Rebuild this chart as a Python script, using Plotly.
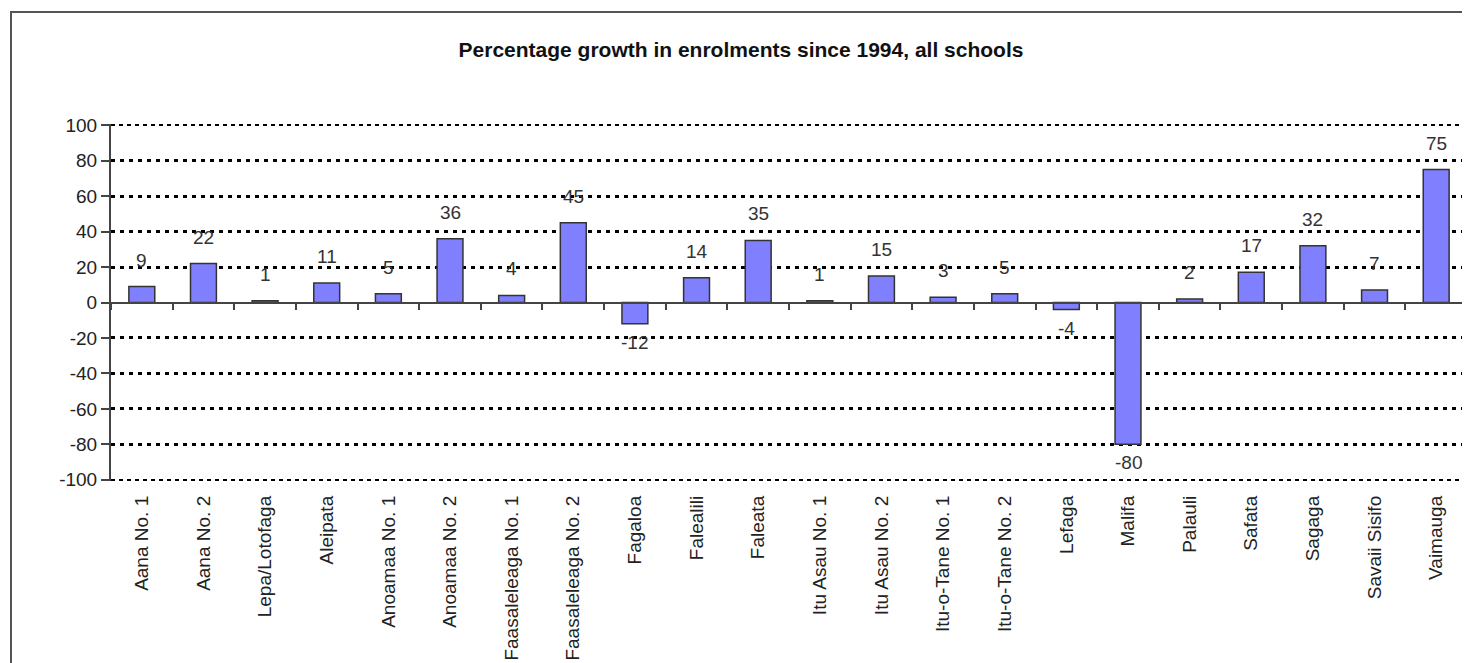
import plotly.graph_objects as go

districts = ["Aana No. 1", "Aana No. 2", "Lepa/Lotofaga", "Aleipata", "Anoamaa No. 1",
             "Anoamaa No. 2", "Faasaleleaga No. 1", "Faasaleleaga No. 2", "Fagaloa",
             "Falealili", "Faleata", "Itu Asau No. 1", "Itu Asau No. 2", "Itu-o-Tane No. 1",
             "Itu-o-Tane No. 2", "Lefaga", "Malifa", "Palauli", "Safata", "Sagaga",
             "Savaii Sisifo", "Vaimauga"]
growth = [9, 22, 1, 11, 5, 36, 4, 45, -12, 14, 35, 1, 15, 3, 5, -4, -80, 2, 17, 32, 7, 75]
y_ticks = [-100, -80, -60, -40, -20, 0, 20, 40, 60, 80, 100]
y_tick_labels = ["-100", "-80", "-60", "-40", "-20", "0", "20", "40", "60", "80", "100"]
inner_grid = [-80, -60, -40, -20, 20, 40, 60, 80]
outer_grid = [-100, 100]
title_text = "Percentage growth in enrolments since 1994, all schools"

FONT = "Liberation Sans, Arial, sans-serif"
OFF = 8  # default page body margin
W, H = 1470 - OFF, 663 - OFF
ML, MR, MT, MB = 111 - OFF, 3, 124 - OFF, 182
YR = [-100.7, 100.7]

fig = go.Figure()

# invisible helpers so the overlay axes are drawn
fig.add_trace(go.Scatter(x=districts, y=growth, mode="none", xaxis="x", yaxis="y2",
                         showlegend=False, hoverinfo="skip"))
fig.add_trace(go.Scatter(x=districts, y=growth, mode="none", xaxis="x", yaxis="y3",
                         showlegend=False, hoverinfo="skip"))
fig.add_trace(go.Scatter(x=districts, y=growth, mode="none", xaxis="x2", yaxis="y",
                         showlegend=False, hoverinfo="skip"))

fig.add_trace(go.Bar(
    x=districts, y=growth, width=0.42,
    marker=dict(color="#8080FF", line=dict(color="#333333", width=1.5)),
    showlegend=False, hoverinfo="x+y",
))

annotations = []
for d, v in zip(districts, growth):
    if v >= 0:
        annotations.append(dict(x=d, y=v, xref="x", yref="y", text=str(v), showarrow=False,
                                yanchor="bottom", yshift=14,
                                font=dict(family=FONT, size=19, color="#333333")))
    else:
        annotations.append(dict(x=d, y=v, xref="x", yref="y", text=str(v), showarrow=False,
                                yanchor="top", yshift=-6,
                                font=dict(family=FONT, size=19, color="#333333")))

# outer frame of the chart
pw = W - ML - MR
ph = H - MT - MB
shapes = [dict(type="rect", xref="paper", yref="paper",
               x0=(3 - ML) / pw, x1=(W + 20 - ML) / pw,
               y0=(H - MB - (H + 20)) / ph, y1=(H - MB - 4) / ph,
               line=dict(color="#555555", width=2), fillcolor="rgba(0,0,0,0)", layer="below")]

fig.update_layout(
    width=W, height=H,
    margin=dict(l=ML, r=MR, t=MT, b=MB, autoexpand=False),
    paper_bgcolor="white", plot_bgcolor="white",
    title=dict(text="<b>" + title_text + "</b>", xref="container", yref="container",
               x=(741 - OFF) / W, xanchor="center", y=1 - (50 - OFF) / H, yanchor="middle",
               font=dict(family=FONT, size=21, color="#111111")),
    annotations=annotations,
    shapes=shapes,
    xaxis=dict(
        type="category", categoryorder="array", categoryarray=districts,
        range=[-0.5, len(districts) - 0.5],
        showline=False, showgrid=False, zeroline=False, ticks="",
        tickangle=-90, ticklabelstandoff=10,
        tickfont=dict(family=FONT, size=19, color="#222222"),
    ),
    xaxis2=dict(
        type="category", categoryorder="array", categoryarray=districts,
        range=[-0.5, len(districts) - 0.5],
        overlaying="x", anchor="free", position=0.5, side="bottom",
        showline=True, linecolor="#444444", linewidth=2,
        ticks="outside", tickson="boundaries", ticklen=6, tickwidth=1.5, tickcolor="#444444",
        showticklabels=False, showgrid=False, zeroline=False,
    ),
    yaxis=dict(
        range=YR, tickvals=y_ticks, ticktext=y_tick_labels, showgrid=False, zeroline=False,
        showline=True, linecolor="#444444", linewidth=2,
        ticks="outside", ticklen=8, tickwidth=1.5, tickcolor="#444444",
        tickfont=dict(family=FONT, size=19, color="#222222"),
    ),
    yaxis2=dict(
        range=YR, overlaying="y", tickvals=outer_grid, showticklabels=False,
        showgrid=True, gridcolor="#000000", gridwidth=1.5, griddash="4px,4px",
        zeroline=False, showline=False, ticks="",
    ),
    yaxis3=dict(
        range=YR, overlaying="y", tickvals=inner_grid, showticklabels=False,
        showgrid=True, gridcolor="#000000", gridwidth=3, griddash="4px,5px",
        zeroline=False, showline=False, ticks="",
    ),
)

fig.write_html("out.html")
